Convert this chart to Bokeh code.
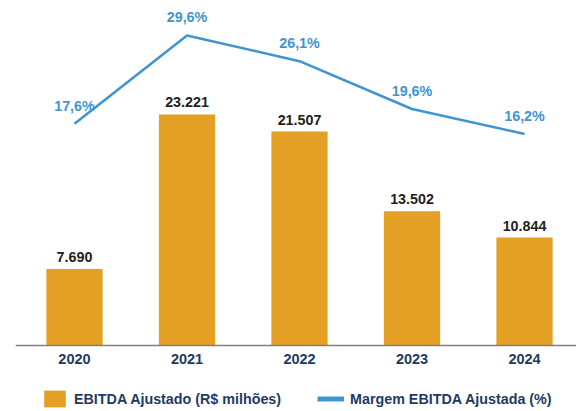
from bokeh.plotting import figure
from bokeh.models import (ColumnDataSource, Range1d, FixedTicker,
                          LabelSet, Legend, LegendItem)
from bokeh.core.properties import value
from bokeh.embed import file_html
from bokeh.resources import INLINE

# ---- data ----
years = ["2020", "2021", "2022", "2023", "2024"]
ebitda = [7690, 23221, 21507, 13502, 10844]          # R$ milhões
margem = [17.6, 29.6, 26.1, 19.6, 16.2]              # %

ORANGE = "#E3A024"
BLUE = "#3E95D3"
NAVY = "#1F3A62"
DARK = "#231F20"
FONT = "Liberation Sans"

xs = list(range(len(years)))
src = ColumnDataSource(dict(
    x=xs,
    ebitda=ebitda,
    margem=margem,
    ebitda_lbl=[f"{v:,}".replace(",", ".") for v in ebitda],
    margem_lbl=[f"{v:.1f}%".replace(".", ",") for v in margem],
))

p = figure(width=576, height=411, output_backend="svg", toolbar_location=None,
           x_range=Range1d(-0.5244, 4.462), y_range=Range1d(-6635, 34680),
           y_axis_location=None, min_border_left=15, min_border_right=0,
           min_border_top=0, min_border_bottom=0)
p.outline_line_color = None
p.grid.visible = False
p.extra_y_ranges = {"pct": Range1d(-21.55, 34.36)}

bars = p.vbar(x="x", top="ebitda", width=0.5, source=src,
              fill_color=ORANGE, line_color=None)
p.line(x="x", y="margem", source=src, y_range_name="pct",
       line_color=BLUE, line_width=2.5)
# legend-only swatch (thicker line, drawn nowhere in the plot area)
legend_line = p.line(x=[float("nan")], y=[float("nan")], line_color=BLUE, line_width=5)

xa = p.xaxis[0]
xa.fixed_location = 0
xa.ticker = FixedTicker(ticks=xs)
xa.major_label_overrides = {i: y for i, y in zip(xs, years)}
xa.major_tick_line_color = None
xa.minor_tick_line_color = None
xa.major_tick_out = 0
xa.major_tick_in = 0
xa.axis_line_color = "#7F7F7F"
xa.axis_line_width = 1.5
xa.major_label_standoff = 9
xa.major_label_text_font = FONT
xa.major_label_text_font_style = "bold"
xa.major_label_text_font_size = "14.5px"
xa.major_label_text_color = NAVY

p.add_layout(LabelSet(x="x", y="ebitda", text="ebitda_lbl", source=src,
                      y_offset=7, text_align="center", text_baseline="alphabetic",
                      text_font=value(FONT), text_font_style="bold",
                      text_font_size="14.3px", text_color=DARK))
p.add_layout(LabelSet(x="x", y="margem", text="margem_lbl", source=src,
                      y_range_name="pct", y_offset=13, text_align="center",
                      text_baseline="alphabetic", text_font=value(FONT),
                      text_font_style="bold", text_font_size="14.3px",
                      text_color=BLUE))

legend = Legend(items=[LegendItem(label="EBITDA Ajustado (R$ milhões)", renderers=[bars]),
                       LegendItem(label="Margem EBITDA Ajustada (%)", renderers=[legend_line])],
                orientation="horizontal", location=(26, 2),
                glyph_width=27, glyph_height=21, label_standoff=6, spacing=36,
                padding=0, margin=0, border_line_color=None,
                background_fill_alpha=0, label_text_font=FONT,
                label_text_font_style="bold", label_text_font_size="14.3px",
                label_text_color=NAVY)
p.add_layout(legend)

open("out.html", "w").write(file_html(p, INLINE))
